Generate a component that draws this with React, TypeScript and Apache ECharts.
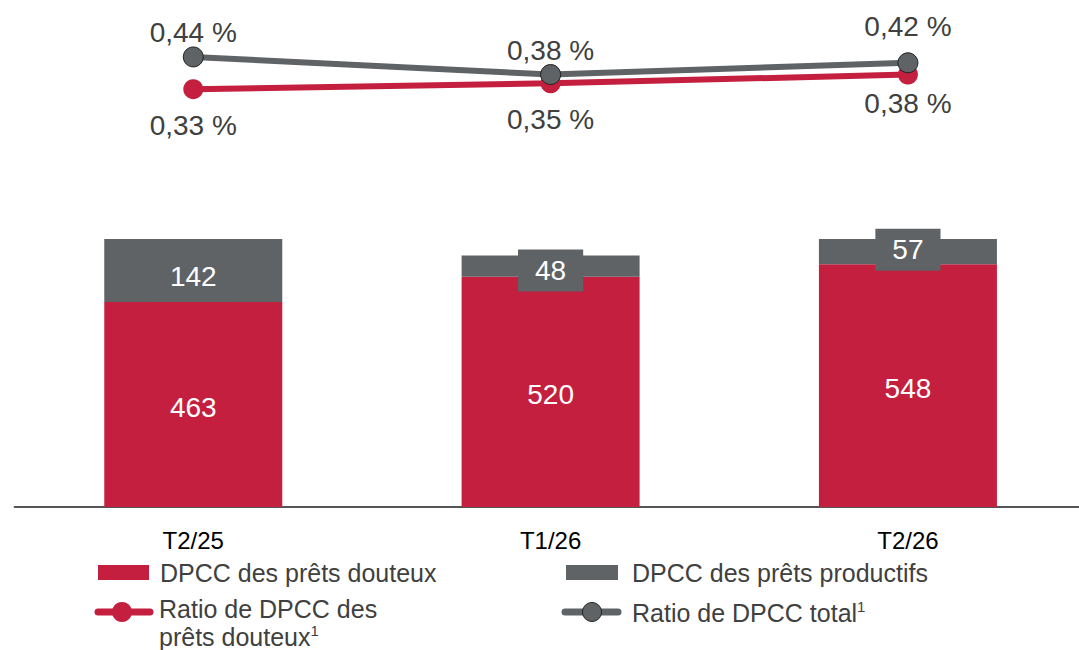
import React, { useEffect, useRef } from "react";
import * as echarts from "echarts";

const categories = ["T2/25", "T1/26", "T2/26"];
const impairedAllowance = [463, 520, 548];
const performingAllowance = [142, 48, 57];
const impairedRatio = [0.33, 0.35, 0.38];
const totalRatio = [0.44, 0.38, 0.42];

const legendNames = [
  "DPCC des prêts douteux",
  "DPCC des prêts productifs",
  "Ratio de DPCC des",
  "prêts douteux",
  "Ratio de DPCC total",
];

const RED = "#C41F3E";
const GRAY = "#5F6366";
const TEXT = "#404040";
const FONT = "'Liberation Sans', Arial, Helvetica, sans-serif";

// label placement (style only)
const totalLabelDistance = [0, 0, 12];
const impairedLabelDistance = [12, 12, 5];
const performingLabelShift = [6, 4.5, -2];

const fmtPct = (v: number) => v.toFixed(2).replace(".", ",") + " %";

export default function App() {
  const ref = useRef<HTMLDivElement>(null);
  useEffect(() => {
    if (!ref.current) return;
    const chart = echarts.init(ref.current, null, { renderer: "svg" });
    const gridLeft = 14.6;
    const gridWidth = 1072;
    const richStyle = {
      a: { fontSize: 25, fontFamily: FONT, fill: TEXT, lineHeight: 28 },
      s: { fontSize: 15, fontFamily: FONT, fill: TEXT, lineHeight: 15, verticalAlign: "top" },
    };
    const legendText = (text: string, x: number, y: number) => ({
      type: "text",
      x,
      y,
      style: {
        text,
        fill: TEXT,
        font: `25px ${FONT}`,
        lineHeight: 25,
        verticalAlign: "middle",
      },
    });
    const option: any = {
      animation: false,
      backgroundColor: "#ffffff",
      textStyle: { fontFamily: FONT },
      grid: [
        { left: gridLeft, width: gridWidth, top: 197, bottom: 143, containLabel: false },
        { left: gridLeft, width: gridWidth, top: 54, height: 44, containLabel: false },
      ],
      xAxis: [
        {
          type: "category",
          gridIndex: 0,
          data: categories,
          axisLine: { show: true, lineStyle: { color: "#555555", width: 2 } },
          axisTick: { show: false },
          axisLabel: { color: "#000000", fontSize: 24, fontFamily: FONT, margin: 21 },
        },
        {
          type: "category",
          gridIndex: 1,
          data: categories,
          show: false,
        },
      ],
      yAxis: [
        { type: "value", gridIndex: 0, min: 0, max: 700, show: false },
        { type: "value", gridIndex: 1, min: 0.3, max: 0.45, show: false },
      ],
      series: [
        {
          name: legendNames[0],
          type: "bar",
          stack: "dpcc",
          xAxisIndex: 0,
          yAxisIndex: 0,
          barWidth: 178,
          data: impairedAllowance,
          itemStyle: { color: RED },
          label: {
            show: true,
            position: "inside",
            color: "#ffffff",
            fontSize: 28,
            fontFamily: FONT,
            offset: [0, 3],
          },
        },
        {
          name: legendNames[1],
          type: "bar",
          stack: "dpcc",
          xAxisIndex: 0,
          yAxisIndex: 0,
          barWidth: 178,
          data: performingAllowance.map((v, i) => ({
            value: v,
            label: { offset: [0, performingLabelShift[i]] },
          })),
          itemStyle: { color: GRAY },
          label: {
            show: true,
            position: "inside",
            color: "#ffffff",
            fontSize: 28,
            fontFamily: FONT,
            backgroundColor: GRAY,
            padding: [7, 17],
          },
        },
        {
          name: "Ratio de DPCC des prêts douteux",
          type: "line",
          xAxisIndex: 1,
          yAxisIndex: 1,
          data: impairedRatio.map((v, i) => ({
            value: v,
            label: { distance: impairedLabelDistance[i] },
          })),
          symbol: "circle",
          symbolSize: 20,
          lineStyle: { color: RED, width: 6 },
          itemStyle: { color: RED },
          label: {
            show: true,
            position: "bottom",
            color: TEXT,
            fontSize: 28,
            fontFamily: FONT,
            formatter: (p: any) => fmtPct(p.value),
          },
          z: 3,
        },
        {
          name: "Ratio de DPCC total",
          type: "line",
          xAxisIndex: 1,
          yAxisIndex: 1,
          data: totalRatio.map((v, i) => ({
            value: v,
            label: { distance: totalLabelDistance[i] },
          })),
          symbol: "circle",
          symbolSize: 20,
          lineStyle: { color: GRAY, width: 6 },
          itemStyle: { color: GRAY, borderColor: "#222222", borderWidth: 1 },
          label: {
            show: true,
            position: "top",
            color: TEXT,
            fontSize: 28,
            fontFamily: FONT,
            formatter: (p: any) => fmtPct(p.value),
          },
          z: 4,
        },
      ],
      graphic: [
        { type: "rect", shape: { x: 98, y: 565, width: 51, height: 15 }, style: { fill: RED } },
        legendText(legendNames[0], 160, 573),
        { type: "rect", shape: { x: 566, y: 565, width: 52, height: 15 }, style: { fill: GRAY } },
        legendText(legendNames[1], 632, 573),
        {
          type: "line",
          shape: { x1: 98, y1: 612, x2: 150, y2: 612 },
          style: { stroke: RED, lineWidth: 7, lineCap: "round" },
        },
        { type: "circle", shape: { cx: 122, cy: 612, r: 10 }, style: { fill: RED } },
        {
          type: "text",
          x: 159,
          y: 594.5,
          style: {
            text: `{a|${legendNames[2]}}\n{a|${legendNames[3]}}{s|1}`,
            fill: TEXT,
            font: `25px ${FONT}`,
            verticalAlign: "top",
            rich: richStyle,
          },
        },
        {
          type: "line",
          shape: { x1: 565, y1: 612, x2: 618, y2: 612 },
          style: { stroke: GRAY, lineWidth: 7, lineCap: "round" },
        },
        {
          type: "circle",
          shape: { cx: 592, cy: 612, r: 9.5 },
          style: { fill: GRAY, stroke: "#222222", lineWidth: 1 },
        },
        {
          type: "text",
          x: 632,
          y: 598.5,
          style: {
            text: `{a|${legendNames[4]}}{s|1}`,
            fill: TEXT,
            font: `25px ${FONT}`,
            verticalAlign: "top",
            rich: richStyle,
          },
        },
      ],
    };
    chart.setOption(option);
    return () => chart.dispose();
  }, []);
  return (
    <div
      ref={ref}
      style={{ position: "fixed", left: 0, top: 0, width: 1090, height: 650, background: "#fff" }}
    />
  );
}
